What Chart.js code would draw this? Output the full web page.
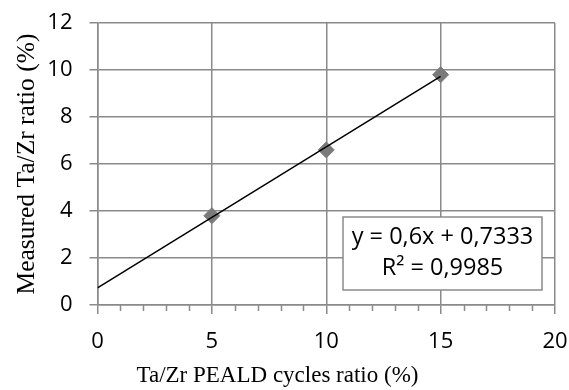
<!DOCTYPE html>
<html>
<head>
<meta charset="utf-8">
<script src="https://cdn.jsdelivr.net/npm/chart.js@4.4.1/dist/chart.umd.min.js"></script>
<style>
  html, body { margin: 0; padding: 0; background: #ffffff; }
  #wrap { width: 569px; height: 390px; position: relative; }
</style>
</head>
<body>
<div id="wrap"><canvas id="c" width="569" height="390"></canvas></div>
<script>
// ---- data ----
const cyclesRatio = [5, 10, 15];            // x: Ta/Zr PEALD cycles ratio (%)
const measuredRatio = [3.8, 6.6, 9.8];      // y: measured Ta/Zr ratio (%)
const trendX = [0, 15];                     // linear trend line ends
const trendY = [0.7333, 9.7333];
const xTicks = [0, 5, 10, 15, 20];
const yTicks = [0, 2, 4, 6, 8, 10, 12];
const equationLines = ['y = 0,6x + 0,7333', 'R² = 0,9985'];
const xTitle = 'Ta/Zr PEALD cycles ratio (%)';
const yTitle = 'Measured Ta/Zr ratio (%)';

const GRID = '#8a8a8a';
const TICK_FONT = { family: '"Open Sans", sans-serif', size: 22 };
const X_TITLE_FONT = { family: '"Liberation Serif", "Times New Roman", serif', size: 23, weight: 'normal' };
const Y_TITLE_FONT = { family: '"Liberation Serif", "Times New Roman", serif', size: 25.5, weight: 'normal' };

const minorTicks = {
  id: 'minorTicks',
  afterDraw(chart) {
    const xs = chart.scales.x, ctx = chart.ctx;
    ctx.save();
    ctx.strokeStyle = GRID;
    ctx.lineWidth = 1.5;
    for (let v = xs.min; v <= xs.max; v += 1) {
      if (xTicks.includes(v)) continue;
      const px = Math.round(xs.getPixelForValue(v)) + 0.5;
      ctx.beginPath();
      ctx.moveTo(px, chart.chartArea.bottom);
      ctx.lineTo(px, chart.chartArea.bottom + 6);
      ctx.stroke();
    }
    ctx.restore();
  }
};

const equationBox = {
  id: 'equationBox',
  afterDatasetsDraw(chart) {
    const ctx = chart.ctx, a = chart.chartArea;
    const w = 199, h = 73;
    const x = a.right - 13 - w, y = a.bottom - 15 - h;
    ctx.save();
    ctx.fillStyle = '#ffffff';
    ctx.fillRect(x, y, w, h);
    ctx.strokeStyle = GRID;
    ctx.lineWidth = 1.5;
    ctx.strokeRect(x, y, w, h);
    ctx.fillStyle = '#000000';
    ctx.font = '23.5px "Open Sans", sans-serif';
    ctx.textAlign = 'center';
    ctx.textBaseline = 'middle';
    ctx.fillText(equationLines[0], x + w / 2, y + 20);
    ctx.fillText(equationLines[1], x + w / 2, y + 51);
    ctx.restore();
  }
};

new Chart(document.getElementById('c'), {
  type: 'scatter',
  data: {
    datasets: [
      {
        label: 'trend',
        data: trendX.map((x, i) => ({ x, y: trendY[i] })),
        showLine: true,
        borderColor: '#000000',
        borderWidth: 1.5,
        pointRadius: 0,
        order: 0
      },
      {
        label: 'measured',
        data: cyclesRatio.map((x, i) => ({ x, y: measuredRatio[i] })),
        pointStyle: 'rectRot',
        pointRadius: 8,
        backgroundColor: '#7a7a7a',
        borderColor: '#7a7a7a',
        borderWidth: 1,
        order: 1
      }
    ]
  },
  options: {
    responsive: false,
    animation: false,
    layout: { padding: { top: 23, right: 14, left: 0, bottom: 0 } },
    plugins: {
      legend: { display: false },
      tooltip: { enabled: false },
      title: {
        display: true,
        position: 'bottom',
        text: xTitle,
        color: '#000000',
        font: X_TITLE_FONT,
        padding: { top: 2, bottom: 0 }
      }
    },
    scales: {
      x: {
        type: 'linear',
        min: 0, max: 20,
        afterFit(s) { s.height = 55.4; s.paddingLeft = 0; s.paddingRight = 0; },
        afterBuildTicks(s) { s.ticks = Array.from({ length: 21 }, (_, i) => ({ value: i })); },
        ticks: {
          autoSkip: false, maxRotation: 0,
          color: '#000000', font: TICK_FONT, padding: 15,
          callback: (v) => xTicks.includes(v) ? String(v) : ''
        },
        grid: {
          color: (c) => xTicks.includes(c.tick && c.tick.value) ? GRID : 'rgba(0,0,0,0)',
          tickColor: (c) => xTicks.includes(c.tick && c.tick.value) ? GRID : 'rgba(0,0,0,0)',
          lineWidth: 1.5,
          tickLength: 9
        },
        border: { color: GRID, width: 1.5 }
      },
      y: {
        type: 'linear',
        min: 0, max: 12,
        afterFit(s) { s.width = 97.5; s.paddingTop = 0; s.paddingBottom = 0; },
        afterBuildTicks(s) { s.ticks = yTicks.map(v => ({ value: v })); },
        ticks: { color: '#000000', font: TICK_FONT, padding: 17 },
        grid: { color: GRID, lineWidth: 1.5, tickLength: 8 },
        border: { color: GRID, width: 1.5 },
        title: {
          display: true,
          text: yTitle,
          color: '#000000',
          font: Y_TITLE_FONT,
          padding: { top: 12, bottom: 0 }
        }
      }
    }
  },
  plugins: [minorTicks, equationBox]
});
</script>
</body>
</html>
